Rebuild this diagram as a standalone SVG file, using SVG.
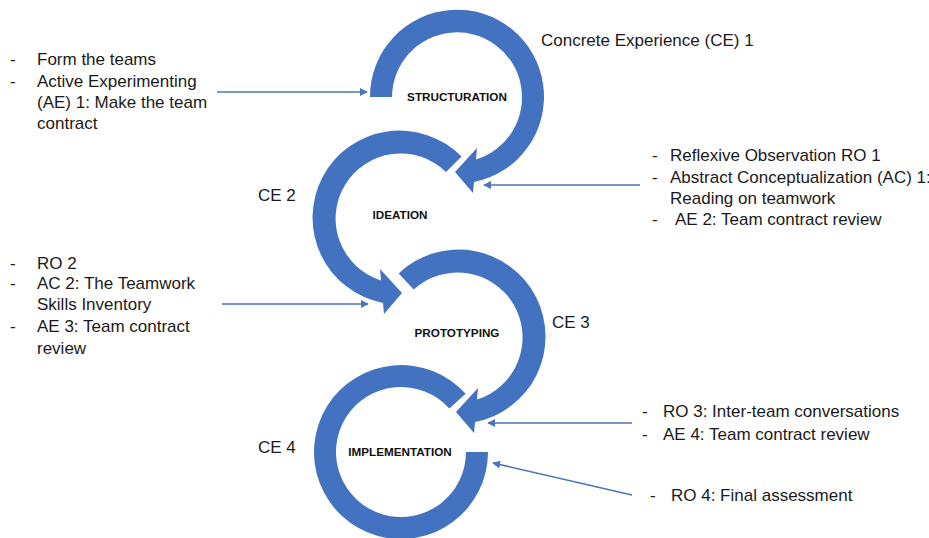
<svg xmlns="http://www.w3.org/2000/svg" width="929" height="538" viewBox="0 0 929 538">
<style>
.arc{fill:#4272c0;}
.t{font-family:"Liberation Sans",Arial,sans-serif;font-size:17px;fill:#1a1a1a;}
.b{font-family:"Liberation Sans",Arial,sans-serif;font-size:11.7px;font-weight:bold;fill:#111;text-anchor:middle;}
.ln{stroke:#4a74bd;stroke-width:1.6;fill:none;marker-end:url(#ah);}
</style>
<defs>
<marker id="ah" viewBox="0 0 10 10" refX="9" refY="5" markerWidth="5" markerHeight="5" orient="auto" markerUnits="strokeWidth">
<path d="M0,0 L10,5 L0,10 Z" fill="#4a74bd"/>
</marker>
</defs>
<rect width="929" height="538" fill="#fff"/>
<g id="structuration">
<path class="arc" d="M370,97 A87,87 0 1 1 474,182 L473,193 L455,172 L477,148 L476,159.5 A65,65 0 1 0 392,97 Z"/>
<text class="b" x="457" y="101">STRUCTURATION</text>
</g>
<g id="ideation">
<path class="arc" d="M461.5,156.5 A87,87 0 1 0 383,303 L384,314 L402,293 L380,269 L381,280.5 A65,65 0 1 1 446,172 Z"/>
<text class="b" x="400" y="219">IDEATION</text>
</g>
<g id="prototyping">
<path class="arc" d="M398.7,273.4 A87,87 0 1 1 475,422 L474,433 L456,412 L478,388 L477,399.5 A65,65 0 1 0 413.7,289.5 Z"/>
<text class="b" x="457" y="337">PROTOTYPING</text>
</g>
<g id="implementation">
<path class="arc" d="M465.6,393.8 A87,87 0 1 0 488,452 L466,452 A65,65 0 1 1 449.3,408.5 Z"/>
<text class="b" x="400" y="456">IMPLEMENTATION</text>
</g>
<g id="ce-labels">
<text class="t" x="541" y="46">Concrete Experience (CE) 1</text>
<text class="t" x="258" y="201">CE 2</text>
<text class="t" x="552" y="328">CE 3</text>
<text class="t" x="258" y="453">CE 4</text>
</g>
<g id="notes-1">
<text class="t" x="10" y="64.5">-</text>
<text class="t" x="37" y="64.5">Form the teams</text>
<text class="t" x="10" y="86.5">-</text>
<text class="t" x="37" y="86.5">Active Experimenting</text>
<text class="t" x="37" y="107.5">(AE) 1: Make the team</text>
<text class="t" x="37" y="128.5">contract</text>
</g>
<g id="notes-2">
<text class="t" x="652" y="160.5">-</text>
<text class="t" x="670" y="160.5">Reflexive Observation RO 1</text>
<text class="t" x="652" y="182.5">-</text>
<text class="t" x="670" y="182.5">Abstract Conceptualization (AC) 1:</text>
<text class="t" x="670" y="203.5">Reading on teamwork</text>
<text class="t" x="652" y="224.5">-</text>
<text class="t" x="675" y="224.5">AE 2: Team contract review</text>
</g>
<g id="notes-3">
<text class="t" x="10" y="268.5">-</text>
<text class="t" x="37" y="268.5">RO 2</text>
<text class="t" x="10" y="289">-</text>
<text class="t" x="37" y="289">AC 2: The Teamwork</text>
<text class="t" x="37" y="310">Skills Inventory</text>
<text class="t" x="10" y="331.5">-</text>
<text class="t" x="37" y="331.5">AE 3: Team contract</text>
<text class="t" x="37" y="353.5">review</text>
</g>
<g id="notes-4">
<text class="t" x="642" y="416.5">-</text>
<text class="t" x="663" y="416.5">RO 3: Inter-team conversations</text>
<text class="t" x="642" y="439.5">-</text>
<text class="t" x="663" y="439.5">AE 4: Team contract review</text>
</g>
<g id="notes-5">
<text class="t" x="650" y="500.5">-</text>
<text class="t" x="671" y="500.5">RO 4: Final assessment</text>
</g>
<g id="connectors">
<line class="ln" x1="217" y1="92" x2="367" y2="92"/>
<line class="ln" x1="640" y1="185" x2="484" y2="185"/>
<line class="ln" x1="222" y1="304" x2="368" y2="304"/>
<line class="ln" x1="632" y1="423" x2="488" y2="423"/>
<line class="ln" x1="632" y1="495" x2="493" y2="463"/>
</g>
</svg>
